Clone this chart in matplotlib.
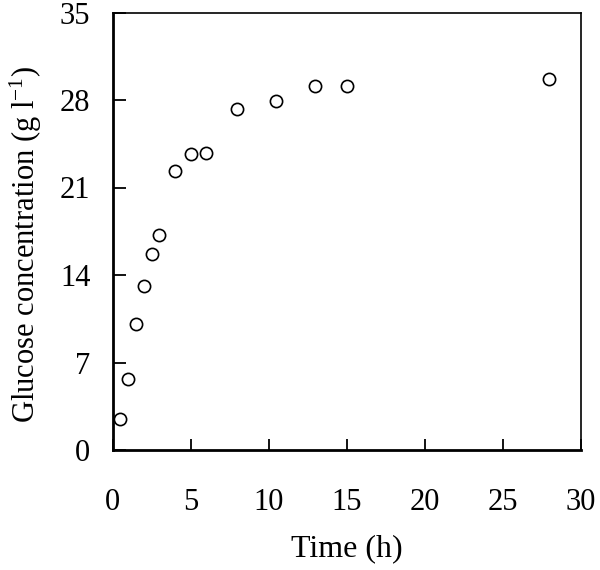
import matplotlib
matplotlib.use("Agg")
import matplotlib.pyplot as plt

time_h = [0.5, 1, 1.5, 2, 2.5, 3, 4, 5, 6, 8, 10.5, 13, 15, 28]
glucose = [2.5, 5.7, 10.1, 13.1, 15.65, 17.2, 22.3, 23.65, 23.8, 27.3, 27.9, 29.1, 29.1, 29.7]
x_ticks = [0, 5, 10, 15, 20, 25, 30]
y_ticks = [0, 7, 14, 21, 28, 35]

plt.rcParams['font.family'] = ['Liberation Serif', 'DejaVu Serif']
plt.rcParams['mathtext.fontset'] = 'custom'
plt.rcParams['mathtext.rm'] = 'Liberation Serif'
plt.rcParams['mathtext.it'] = 'Liberation Serif:italic'

fig = plt.figure(figsize=(6, 5.7), dpi=100)
ax = fig.add_axes([112.7/600, 1 - 450/570, (580.5 - 112.7)/600, (450 - 12.5)/570])
ax.plot(time_h, glucose, linestyle='none', marker='o', markersize=8.8,
        markerfacecolor='white', markeredgecolor='black', markeredgewidth=1.2)
ax.set_xlim(0, 30)
ax.set_ylim(0, 35)
ax.set_xticks(x_ticks)
ax.set_yticks(y_ticks)
ax.tick_params(direction='in', length=8, width=1.3, labelsize=22)
ax.tick_params(axis='x', pad=27)
ax.tick_params(axis='y', length=9.5, pad=16)
for s in ['left', 'bottom']:
    ax.spines[s].set_linewidth(2)
for s in ['top', 'right']:
    ax.spines[s].set_linewidth(1.2)
ax.set_xlabel('Time (h)', fontsize=23)
ax.xaxis.set_label_coords(0.5, -(549 - 450) / 437.5, transform=ax.transAxes)
ax.xaxis.label.set_va('center')
ax.set_ylabel('Glucose concentration (g l$^{\\mathregular{-1}}$)', fontsize=22)
ax.yaxis.set_label_coords(-(112.7 - 26) / 467.8, (450 - 244) / 437.5, transform=ax.transAxes)
ax.yaxis.label.set_va('center')
fig.savefig('out.png', dpi=100)
